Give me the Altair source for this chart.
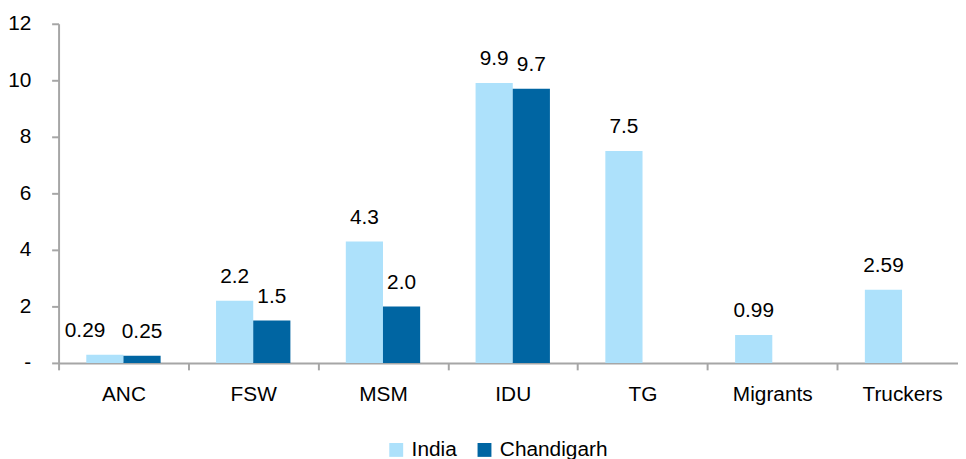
import altair as alt
import pandas as pd

categories = ["ANC", "FSW", "MSM", "IDU", "TG", "Migrants", "Truckers"]
series = ["India", "Chandigarh"]
india = [0.29, 2.2, 4.3, 9.9, 7.5, 0.99, 2.59]
india_labels = ["0.29", "2.2", "4.3", "9.9", "7.5", "0.99", "2.59"]
chandigarh = [0.25, 1.5, 2.0, 9.7, None, None, None]
chandigarh_labels = ["0.25", "1.5", "2.0", "9.7", None, None, None]
colors = ["#ade1fb", "#0065a2"]
y_ticks = [0, 2, 4, 6, 8, 10, 12]

rows = []
for c, v, l in zip(categories, india, india_labels):
    rows.append({"cat": c, "series": "India", "value": v, "label": l})
for c, v, l in zip(categories, chandigarh, chandigarh_labels):
    if v is not None:
        rows.append({"cat": c, "series": "Chandigarh", "value": v, "label": l})
df = pd.DataFrame(rows)

FONT = "Liberation Sans, Arial, sans-serif"
FS = 21
GREY = "#a6a6a6"

x = alt.X(
    "cat:N",
    sort=categories,
    scale=alt.Scale(range=[0, 916], paddingInner=0, paddingOuter=0),
    axis=alt.Axis(
        title=None, labelAngle=0, tickBand="extent", domainColor=GREY,
        domainWidth=2, tickColor=GREY, tickWidth=2, tickSize=7,
        labelPadding=14, labelFontSize=FS, labelFont=FONT, labelColor="#000000",
    ),
)
xo = alt.XOffset(
    "series:N", sort=series,
    scale=alt.Scale(domain=series, paddingInner=0, paddingOuter=0.746),
)
y = alt.Y(
    "value:Q",
    scale=alt.Scale(domain=[0, 12], nice=False),
    axis=alt.Axis(
        title=None, values=y_ticks, grid=False, domainColor=GREY, domainWidth=2,
        tickColor=GREY, tickWidth=2, tickSize=7, labelPadding=21,
        labelFontSize=FS, labelFont=FONT, labelColor="#000000",
        labelExpr="datum.value == 0 ? '-' : datum.label",
    ),
)

bars = alt.Chart(df).mark_bar(size=37.5).encode(
    x=x, xOffset=xo, y=y,
    color=alt.Color(
        "series:N", sort=series,
        scale=alt.Scale(domain=series, range=colors),
        legend=alt.Legend(
            title=None, orient="none", legendX=330, legendY=419,
            direction="horizontal", symbolType="square", symbolSize=196,
            symbolStrokeWidth=0, labelFontSize=FS, labelFont=FONT,
            labelColor="#000000", columnPadding=17, labelOffset=5,
        ),
    ),
)

# the first India label is nudged left in the original to avoid overlap
crowded = (alt.datum.cat == "ANC") & (alt.datum.series == "India")

texts = alt.Chart(df).transform_filter(~crowded).mark_text(
    baseline="alphabetic", dy=-18, fontSize=FS, font=FONT, color="#000000"
).encode(x=x, xOffset=xo, y=y, text="label:N")

texts_nudged = alt.Chart(df).transform_filter(crowded).mark_text(
    baseline="alphabetic", dy=-18, dx=-20, fontSize=FS, font=FONT, color="#000000"
).encode(x=x, xOffset=xo, y=y, text="label:N")

chart = (bars + texts + texts_nudged).properties(
    width=907, height=342,
    autosize=alt.AutoSizeParams(type="none"),
    padding={"left": 51, "top": 14, "right": 0, "bottom": 95},
).configure_view(stroke=None)

chart.save("out.html", embed_options={"renderer": "svg", "actions": False})
